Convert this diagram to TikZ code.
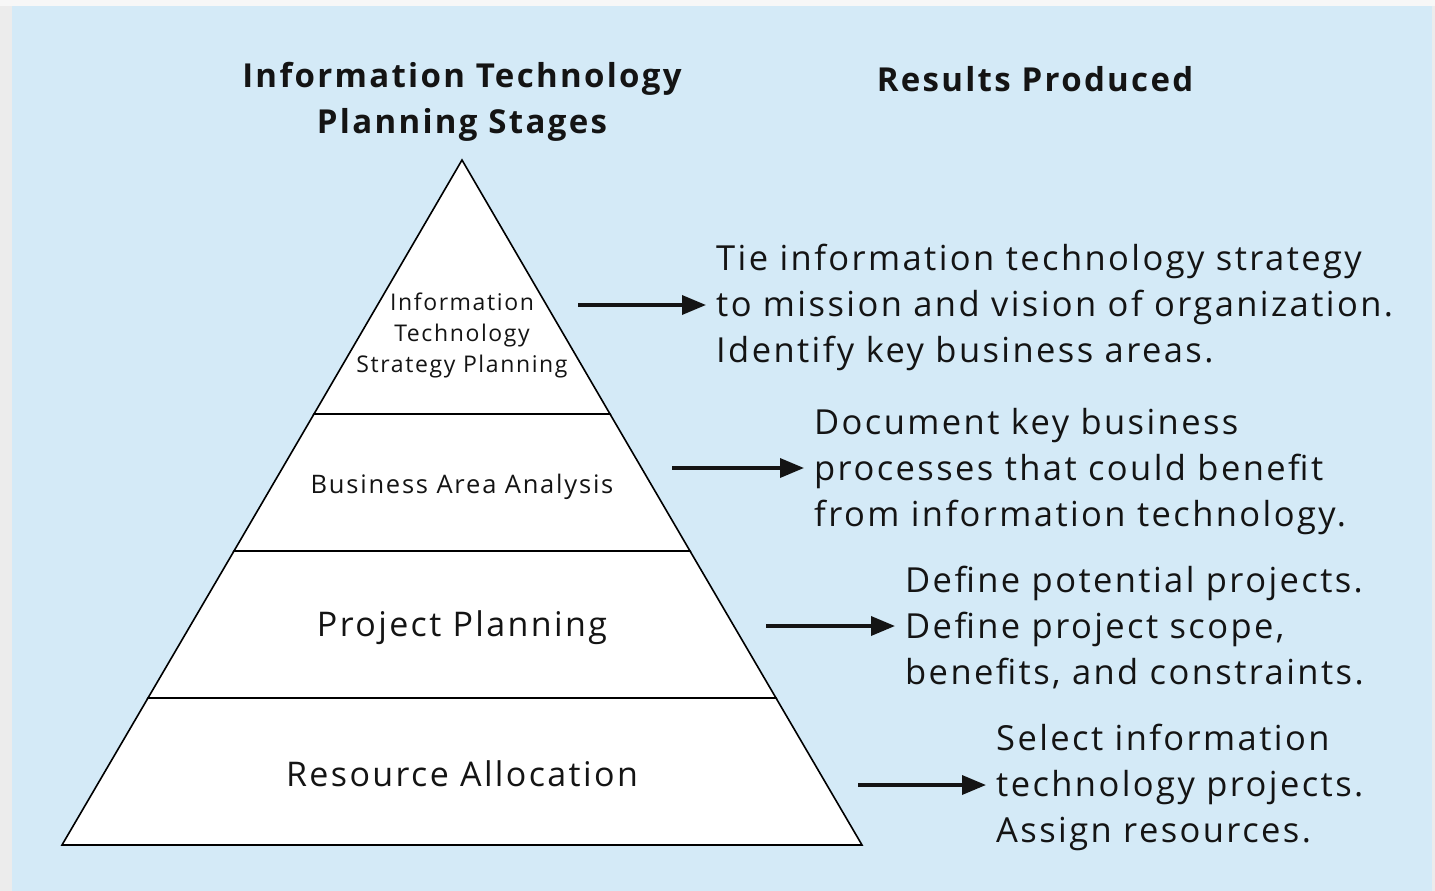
\documentclass[tikz,border=0pt]{standalone}
\usepackage{fontspec}
\setmainfont{Open Sans}[LetterSpace=7]
\usetikzlibrary{arrows.meta}
\definecolor{bgblue}{RGB}{212,234,247}
\definecolor{edgegray}{RGB}{236,236,236}
\definecolor{txt}{RGB}{20,20,20}
\tikzset{
  layer/.style={draw=black, line width=1.6pt, fill=white, line join=miter},
  res/.style={anchor=west, align=left, inner sep=0pt, text=txt, font=\fontsize{34.5}{46}\selectfont},
  head/.style={align=center, inner sep=0pt, text=txt, font=\bfseries\fontsize{33}{46}\selectfont},
  lab/.style={align=center, inner sep=0pt, text=txt},
  arr/.style={line width=3.5pt, -{Triangle[length=24pt,width=19pt]}, draw=txt, shorten >=10pt}
}
\begin{document}
\begin{tikzpicture}[x=1pt,y=-1pt]
\useasboundingbox (0,0) rectangle (1435,891);
\fill[edgegray] (0,0) rectangle (1435,891);
\fill[white!60!edgegray] (0,0) rectangle (1435,6);
\fill[bgblue] (12,6) rectangle (1432,891);
% pyramid
\draw[layer] (462,160) -- (610,414) -- (314,414) -- cycle;
\draw[layer] (314,414) -- (610,414) -- (690,551) -- (234,551) -- cycle;
\draw[layer] (234,551) -- (690,551) -- (776,698) -- (148,698) -- cycle;
\draw[layer] (148,698) -- (776,698) -- (862,845) -- (62,845) -- cycle;
% headings
\node[head] (h1) at (462,102) {Information Technology\\Planning Stages};
\node[head] (h2) at (1035,79) {Results Produced};
% stage labels
\node[lab, font=\fontsize{23}{31}\selectfont] (s1) at (462,335) {Information\\Technology\\Strategy Planning};
\node[lab, font=\fontsize{25.5}{31}\selectfont] (s2) at (462,487) {Business Area Analysis};
\node[lab, font=\fontsize{34}{46}\selectfont] (s3) at (462,628) {Project Planning};
\node[lab, font=\fontsize{34}{46}\selectfont] (s4) at (462,774) {Resource Allocation};
% results
\node[res] (r1) at (716,307) {Tie information technology strategy\\to mission and vision of organization.\\Identify key business areas.};
\node[res] (r2) at (814,472) {Document key business\\processes that could benefit\\from information technology.};
\node[res] (r3) at (905,628) {Define potential projects.\\Define project scope,\\benefits, and constraints.};
\node[res] (r4) at (996,787) {Select information\\technology projects.\\Assign resources.};
% arrow starts
\coordinate (a1) at (578,305);
\coordinate (a2) at (672,468);
\coordinate (a3) at (766,626);
\coordinate (a4) at (858,785);
\draw[arr] (a1) -- (a1 -| r1.west);
\draw[arr] (a2) -- (a2 -| r2.west);
\draw[arr] (a3) -- (a3 -| r3.west);
\draw[arr] (a4) -- (a4 -| r4.west);
\end{tikzpicture}
\end{document}
